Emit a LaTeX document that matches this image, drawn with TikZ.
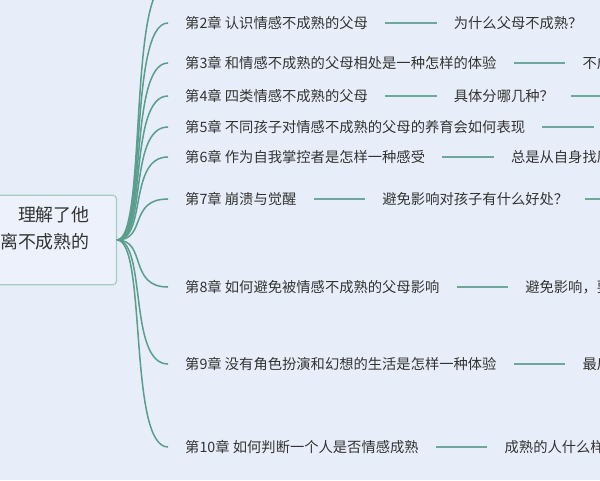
\documentclass[tikz,border=0pt]{standalone}
\usepackage{fontspec}
\setmainfont{Noto Sans CJK SC}
\usetikzlibrary{positioning}
\definecolor{pagebg}{HTML}{E8EEF9}
\definecolor{rootfill}{HTML}{EDF1FB}
\definecolor{rootline}{HTML}{A2CDC2}
\definecolor{branchgreen}{HTML}{5C9E8D}
\definecolor{linkgreen}{HTML}{6BAA9B}
\definecolor{txtgray}{HTML}{333333}

\begin{document}
\begin{tikzpicture}[x=0.03cm, y=-0.03cm,
  chap/.style={anchor=west, inner xsep=14.5pt, inner ysep=2pt, text=txtgray,
    font=\fontsize{12.2pt}{14pt}\selectfont},
  rootbox/.style={draw=rootline, fill=rootfill, line width=1pt, rounded corners=3pt,
    anchor=east, minimum width=200pt, minimum height=76.5pt},
  roottxt/.style={anchor=east, align=right, inner sep=0pt, text=txtgray,
    font=\fontsize{15.3pt}{23pt}\selectfont},
  branch/.style={draw=branchgreen, line width=1.3pt},
  link/.style={draw=linkgreen, line width=2pt}]
  \useasboundingbox (0,0) rectangle (600,480);
  \fill[pagebg] (0,0) rectangle (600,480);
  \clip (0,0) rectangle (600,480);

  % centre
  \node[rootbox] (root) at (117,240) {};
  \node[roottxt] (rootlbl) at (90,228.5) {、\hspace{5pt}理解了他\\离不成熟的};

  % chapters
  \coordinate (c1) at (168,-17);
  \node[chap] (c2) at (168,23) {第2章 认识情感不成熟的父母};
  \node[chap] (c3) at (168,63) {第3章 和情感不成熟的父母相处是一种怎样的体验};
  \node[chap] (c4) at (168,96) {第4章 四类情感不成熟的父母};
  \node[chap] (c5) at (168,127) {第5章 不同孩子对情感不成熟的父母的养育会如何表现};
  \node[chap] (c6) at (168,157) {第6章 作为自我掌控者是怎样一种感受};
  \node[chap] (c7) at (168,199) {第7章 崩溃与觉醒};
  \node[chap] (c8) at (168,287) {第8章 如何避免被情感不成熟的父母影响};
  \node[chap] (c9) at (168,364) {第9章 没有角色扮演和幻想的生活是怎样一种体验};
  \node[chap] (c10) at (168,447) {第10章 如何判断一个人是否情感成熟};

  % questions
  \node[chap, right=44pt of c2] (q2) {为什么父母不成熟？};
  \node[chap, right=44pt of c3] (q3) {不成};
  \node[chap, right=44pt of c4] (q4) {具体分哪几种？};
  \node[chap, right=44pt of c6] (q6) {总是从自身找原};
  \node[chap, right=44pt of c7] (q7) {避免影响对孩子有什么好处？};
  \node[chap, right=44pt of c8] (q8) {避免影响，要};
  \node[chap, right=44pt of c9] (q9) {最后};
  \node[chap, right=44pt of c10] (q10) {成熟的人什么样？};
  \coordinate[right=44pt of q2] (q2n);
  \coordinate[right=44pt of q4] (q4n);
  \coordinate[right=44pt of c5] (c5n);
  \coordinate[right=44pt of q7] (q7n);

  % branches
  \draw[branch] (root.east) .. controls +(30,0) and +(-40,0) .. (c1);
  \foreach \i in {2,...,10}
    \draw[branch] (root.east) .. controls +(30,0) and +(-40,0) .. (c\i.west);

  \foreach \i in {2,3,4,6,7,8,9,10}
    \draw[link] (c\i.east) -- (q\i.west);
  \draw[link] (c5.east) -- (c5n);
  \draw[link] (q2.east) -- (q2n);
  \draw[link] (q4.east) -- (q4n);
  \draw[link] (q7.east) -- (q7n);
\end{tikzpicture}
\end{document}
